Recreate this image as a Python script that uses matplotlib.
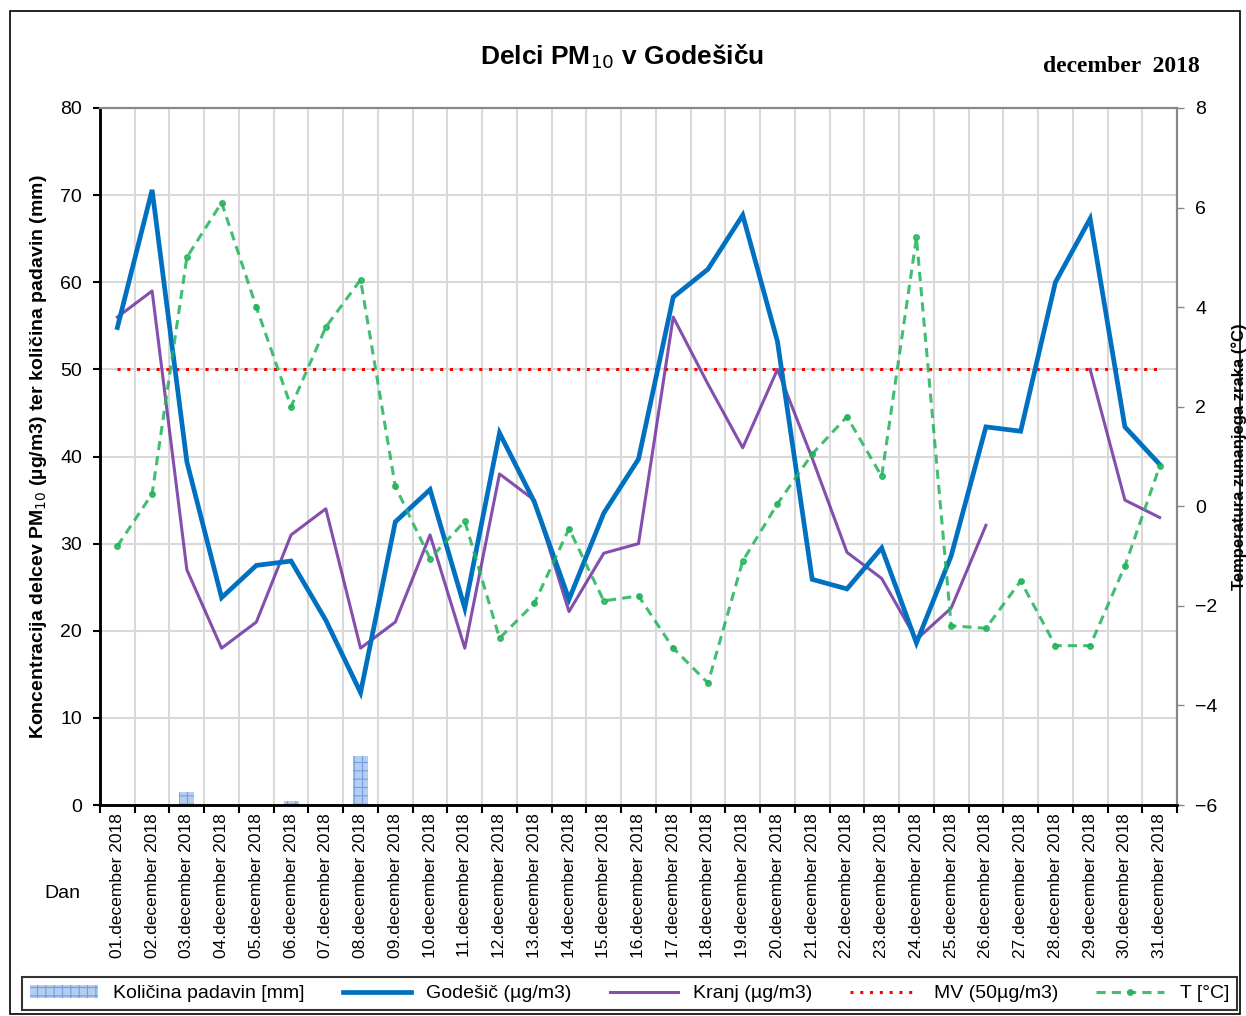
import numpy as np
import matplotlib
matplotlib.use("Agg")
import matplotlib.pyplot as plt
from matplotlib.patches import Rectangle

plt.rcParams['font.family'] = ['Liberation Sans Narrow', 'Liberation Sans', 'DejaVu Sans']
plt.rcParams['hatch.linewidth'] = 0.8

days = list(range(1, 32))
labels = [f"{d:02d}.december 2018" for d in days]

padavine = [0, 0, 1.5, 0, 0, 0.5, 0, 5.6, 0, 0, 0, 0, 0, 0, 0, 0,
            0, 0, 0, 0, 0, 0, 0, 0, 0, 0, 0, 0, 0, 0, 0]
godesic = [54.8, 70.6, 39.4, 23.8, 27.5, 28.0, 21.2, 12.9, 32.5, 36.2, 22.6,
           42.7, 34.8, 23.6, 33.5, 39.7, 58.3, 61.5, 67.7, 53.2, 25.9, 24.8,
           29.5, 18.6, 28.6, 43.4, 42.9, 60.0, 67.3, 43.4, 39.1]
kranj = [56, 59, 27, 18, 21, 31, 34, 18, 21, 31, 18,
         38, 35, 22.2, 28.9, 30, 56, 48.3, 41, 50, 39.8, 29,
         26, 19, 22.6, 32.1, np.nan, np.nan, 50, 35, 33]
mv = [50] * 31
temp = [-0.8, 0.25, 5.0, 6.1, 4.0, 2.0, 3.6, 4.55, 0.4, -1.05, -0.3,
        -2.65, -1.95, -0.45, -1.9, -1.8, -2.85, -3.55, -1.1, 0.05, 1.05, 1.8,
        0.6, 5.4, -2.4, -2.45, -1.5, -2.8, -2.8, -1.2, 0.8]

fig = plt.figure(figsize=(12.46, 10.16), dpi=100)
ax = fig.add_axes([100 / 1246, 1 - 805 / 1016, 1077 / 1246, 697 / 1016])
ax2 = ax.twinx()

# outer frame
fig.patches.append(Rectangle((10 / 1246, 2 / 1016), 1230 / 1246, 1003 / 1016,
                             transform=fig.transFigure, fill=False,
                             edgecolor='black', linewidth=1.2))

bars = ax.bar(days, padavine, width=0.43, color='#b4cdf0', edgecolor='#6f9fe0',
              hatch='++', linewidth=0, label='Količina padavin [mm]', zorder=2)
l1, = ax.plot(days, godesic, color='#0070C0', lw=3.4, label='Godešič (µg/m3)',
              solid_joinstyle='miter', zorder=4)
l2, = ax.plot(days, kranj, color='#7030A0', lw=2.2, alpha=0.85,
              label='Kranj (µg/m3)', zorder=3)
l3, = ax.plot(days, mv, color='#FF0000', lw=2.2, ls=(0, (1, 2.2)),
              label='MV (50µg/m3)', zorder=3)
l4, = ax2.plot(days, temp, color='#21b35a', lw=2.2, ls=(0, (3, 2)), marker='o',
               markersize=4, alpha=0.85, label='T [°C]')

ax.set_xlim(0.5, 31.5)
ax.set_ylim(0, 80)
ax2.set_ylim(-6, 8)
ax.set_yticks(range(0, 81, 10))
ax2.set_yticks(range(-6, 9, 2))

ax.set_xticks(days)
ax.set_xticklabels(labels, rotation=90, fontsize=12.5)
ax.tick_params(axis='x', which='major', length=0, pad=6)
ax.set_xticks(np.arange(0.5, 32, 1), minor=True)
ax.tick_params(axis='x', which='minor', length=6, width=1.5, direction='out')
ax.tick_params(axis='y', length=5, width=1.5, labelsize=14, pad=8)
ax2.tick_params(axis='y', length=5, width=1, colors='#888888', labelcolor='black',
                labelsize=14, pad=8)

ax.grid(True, axis='y', which='major', color='#d9d9d9', lw=1.5)
ax.grid(True, axis='x', which='minor', color='#d9d9d9', lw=1.5)
ax.set_axisbelow(True)

for a in (ax, ax2):
    a.spines['left'].set_linewidth(1.8)
    a.spines['left'].set_color('black')
    a.spines['bottom'].set_linewidth(1.8)
    a.spines['bottom'].set_color('black')
    a.spines['top'].set_color('#888888')
    a.spines['top'].set_linewidth(1.5)
    a.spines['right'].set_color('#888888')
    a.spines['right'].set_linewidth(1.5)

ax.set_ylabel('Koncentracija delcev PM$_{10}$ (µg/m3) ter količina padavin (mm)',
              fontsize=14, fontweight='bold', labelpad=8)
ax2.set_ylabel('Temperatura zunanjega zraka (°C)', fontsize=12, fontweight='bold',
               labelpad=10)

fig.text(622 / 1246, 1 - 57 / 1016, 'Delci PM$_{10}$ v Godešiču', ha='center',
         va='center', fontsize=19, fontweight='bold')
fig.text(1200 / 1246, 1 - 67 / 1016, 'december  2018', ha='right', va='center',
         fontsize=17, fontweight='bold', family=['Liberation Serif', 'DejaVu Serif'])
fig.text(62 / 1246, 1 - 893 / 1016, 'Dan', ha='center', va='center', fontsize=14)

leg = fig.legend(handles=[bars, l1, l2, l3, l4], ncol=5, mode='expand',
                 loc='center', bbox_to_anchor=(22 / 1246, 4 / 1016, 1215 / 1246, 37 / 1016),
                 fontsize=14, frameon=True, fancybox=False, edgecolor='black',
                 handlelength=3.5, borderaxespad=0)
leg.get_frame().set_linewidth(1.5)

fig.savefig('out.png', dpi=100)
